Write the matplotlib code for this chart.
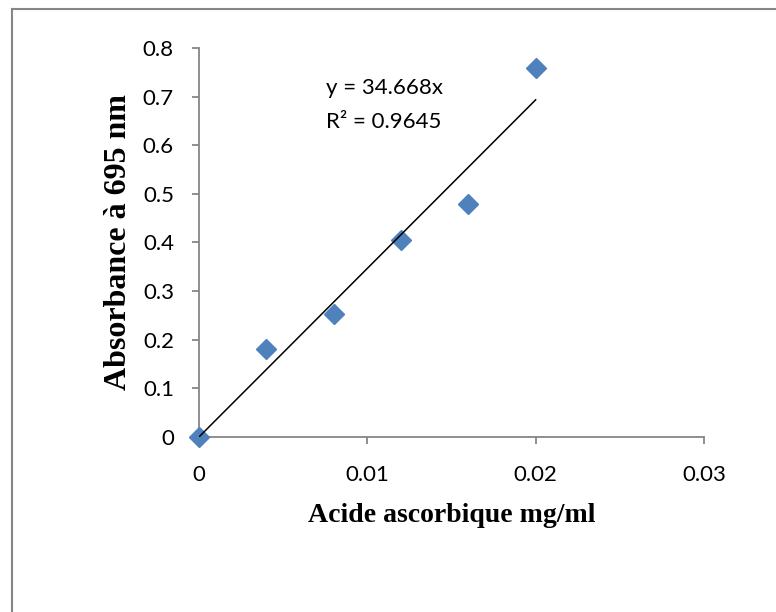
import numpy as np
import matplotlib.pyplot as plt
from matplotlib.lines import Line2D

# data
conc = [0, 0.004, 0.008, 0.012, 0.016, 0.02]
absorb = [0, 0.18, 0.252, 0.406, 0.48, 0.758]
slope = 34.668
r2 = 0.9645
xticks = [0, 0.01, 0.02, 0.03]
yticks = [0, 0.1, 0.2, 0.3, 0.4, 0.5, 0.6, 0.7, 0.8]

fig = plt.figure(figsize=(7.76, 6.12), dpi=100)
ax = fig.add_axes([0.2564, 0.2860, 0.6508, 0.6356])

grey = '#868686'

ax.plot(conc, absorb, linestyle='none', marker='D', markersize=10,
        color='#4F81BD', markeredgecolor='#4F81BD', zorder=3, clip_on=False)
# trendline through origin (forced intercept), drawn over the markers
xfit = np.array([0, max(conc)])
ax.plot(xfit, slope * xfit, color='black', linewidth=1.1, zorder=4)

ax.set_xlim(0, 0.03)
ax.set_ylim(0, 0.8)
ax.set_xticks(xticks)
ax.set_xticklabels(['0', '0.01', '0.02', '0.03'])
ax.set_yticks(yticks)
ax.set_yticklabels(['0', '0.1', '0.2', '0.3', '0.4', '0.5', '0.6', '0.7', '0.8'])

for s in ['top', 'right']:
    ax.spines[s].set_visible(False)
for s in ['left', 'bottom']:
    ax.spines[s].set_color(grey)
    ax.spines[s].set_linewidth(1.3)
ax.tick_params(axis='both', colors=grey, length=5, width=1.3, labelcolor='black',
               labelsize=16)
ax.tick_params(axis='x', pad=15)
ax.tick_params(axis='y', pad=13)
for lab in ax.get_xticklabels() + ax.get_yticklabels():
    lab.set_family('Lato')

ax.set_xlabel('Acide ascorbique mg/ml', family='Liberation Serif', fontweight='bold',
              fontsize=20, labelpad=13)
ax.set_ylabel('Absorbance à 695 nm', family='Liberation Serif', fontweight='bold',
              fontsize=23, labelpad=7)

ax.text(0.00754, 0.717, f'y = {slope}x', family='Lato', fontsize=16, va='center', ha='left')
ax.text(0.00754, 0.648, f'R² = {r2}', family='Lato', fontsize=16, va='center', ha='left')

# outer chart border (top and left visible)
fig.add_artist(Line2D([11.5 / 776, 11.5 / 776], [0, 1 - 9 / 612], transform=fig.transFigure,
                      color=grey, linewidth=1.5))
fig.add_artist(Line2D([11.5 / 776, 1], [1 - 9 / 612, 1 - 9 / 612], transform=fig.transFigure,
                      color=grey, linewidth=1.5))

fig.savefig('out.png', dpi=100)
